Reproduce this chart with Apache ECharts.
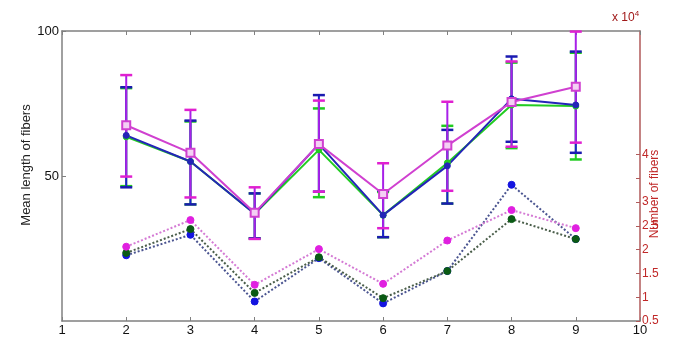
<!DOCTYPE html>
<html>
<head>
<meta charset="utf-8">
<script src="https://cdn.jsdelivr.net/npm/echarts@6/dist/echarts.min.js"></script>
<style>html,body{margin:0;padding:0;background:#fff}#c{width:674px;height:337px}</style>
</head>
<body>
<div id="c"></div>
<script>
// ---- data ----
var xs = [2, 3, 4, 5, 6, 7, 8, 9];
var xTicks = [1, 2, 3, 4, 5, 6, 7, 8, 9, 10];
var leftTicks = [50, 100];
var rightTickValues = [0.5, 1, 1.5, 2, 2.5, 3, 3.5, 4];
var rightLabelValues = [0.5, 1, 1.5, 2, 2.5, 3, 4];

var blueMean = [64, 55, 37, 61, 36.5, 53.5, 76.6, 74.5];
var blueUpper = [80.6, 69.1, 44.0, 77.9, 45, 65.9, 91.2, 92.9];
var blueLower = [46.1, 40.2, 28.5, 44.6, 28.9, 40.5, 61.8, 58];

var greenMean = [63.5, 55, 37, 59, 36.5, 54.5, 74.5, 74.1];
var greenUpper = [80.3, 68.8, 44.0, 73.3, 44.5, 67.3, 89.1, 92.5];
var greenLower = [46.5, 40.2, 28.5, 42.7, 28.9, 40.5, 59.6, 55.7];

var magentaMean = [67.5, 58, 37.3, 61, 43.8, 60.5, 75.5, 80.8];
var magentaUpper = [84.8, 72.8, 46.1, 76.0, 54.4, 75.6, 89.5, 99.8];
var magentaLower = [49.8, 42.6, 28.3, 44.6, 32.0, 44.9, 60.1, 61.5];

// number of fibers (x 10^4)
var blueCount = [1.88, 2.31, 0.91, 1.82, 0.87, 1.55, 3.36, 2.22];
var greenCount = [1.93, 2.43, 1.09, 1.84, 0.98, 1.55, 2.64, 2.22];
var magentaCount = [2.06, 2.62, 1.26, 2.01, 1.28, 2.19, 2.83, 2.45];

// ---- helpers ----
function pairs(vals) { return xs.map(function (x, i) { return [x, vals[i]]; }); }
function errData(lo, hi) { return xs.map(function (x, i) { return [x, lo[i], hi[i]]; }); }
function errSeries(name, lo, hi, stemColor, capColor) {
  return {
    name: name, type: 'custom', xAxisIndex: 0, yAxisIndex: 0,
    data: errData(lo, hi), z: 3,
    renderItem: function (params, api) {
      var x = api.value(0);
      var p1 = api.coord([x, api.value(1)]);
      var p2 = api.coord([x, api.value(2)]);
      var hw = 6;
      return {
        type: 'group',
        children: [
          { type: 'line', shape: { x1: p1[0], y1: p1[1], x2: p2[0], y2: p2[1] }, style: { stroke: stemColor, lineWidth: 2 } },
          { type: 'line', shape: { x1: p1[0] - hw, y1: p1[1], x2: p1[0] + hw, y2: p1[1] }, style: { stroke: capColor, lineWidth: 2.5 } },
          { type: 'line', shape: { x1: p2[0] - hw, y1: p2[1], x2: p2[0] + hw, y2: p2[1] }, style: { stroke: capColor, lineWidth: 2.5 } }
        ]
      };
    }
  };
}
function solidLine(name, vals, color, symbol, size, filled) {
  return {
    name: name, type: 'line', xAxisIndex: 0, yAxisIndex: 0, data: pairs(vals), z: 4,
    symbol: symbol, symbolSize: size, showSymbol: true,
    lineStyle: { color: color, width: 2 },
    itemStyle: filled ? { color: color, borderColor: color, borderWidth: 1 } : { color: '#f4d0f4', borderColor: color, borderWidth: 2 },
    animation: false
  };
}
function dottedLine(name, vals, lineColor, dotColor) {
  return {
    name: name, type: 'line', xAxisIndex: 0, yAxisIndex: 1, data: pairs(vals), z: 2,
    symbol: 'circle', symbolSize: 7, showSymbol: true,
    lineStyle: { color: lineColor, width: 2, type: [2, 2] },
    itemStyle: { color: dotColor, borderColor: dotColor },
    animation: false
  };
}

var gray = '#808080';
var red = '#c02828';
var font = 'Liberation Sans, Arial, sans-serif';

var chart = echarts.init(document.getElementById('c'));
chart.setOption({
  animation: false,
  backgroundColor: '#ffffff',
  grid: { left: 62, right: 34, top: 31, bottom: 16, containLabel: false },
  xAxis: [
    {
      type: 'value', min: 1, max: 10, interval: 1, position: 'bottom',
      axisLine: { show: true, lineStyle: { color: gray, width: 1.5 } },
      axisTick: { show: true, inside: true, length: 4, lineStyle: { color: gray } },
      axisLabel: { color: '#111', fontSize: 13, fontFamily: font, margin: 3 },
      splitLine: { show: false }
    },
    {
      type: 'value', min: 1, max: 10, interval: 1, position: 'top',
      axisLine: { show: true, onZero: false, lineStyle: { color: gray, width: 1.5 } },
      axisTick: { show: true, inside: true, length: 4, lineStyle: { color: gray } },
      axisLabel: { show: false },
      splitLine: { show: false }
    }
  ],
  yAxis: [
    {
      type: 'value', min: 0, max: 100, position: 'left',
      axisLine: { show: true, lineStyle: { color: gray, width: 1.5 } },
      axisTick: { show: true, inside: true, length: 4, customValues: leftTicks, lineStyle: { color: gray } },
      axisLabel: { color: '#111', fontSize: 13, fontFamily: font, margin: 3, customValues: leftTicks },
      splitLine: { show: false }
    },
    {
      type: 'value', min: 0.5, max: 6.59, position: 'right',
      axisLine: { show: true, lineStyle: { color: '#b05a5a', width: 1.5 } },
      axisTick: { show: true, inside: true, length: 4, customValues: rightTickValues, lineStyle: { color: '#b05a5a' } },
      axisLabel: { color: red, fontSize: 12, fontFamily: font, margin: 2, customValues: rightLabelValues },
      splitLine: { show: false }
    }
  ],
  graphic: [
    { type: 'text', x: 26, y: 165, rotation: Math.PI / 2,
      style: { text: 'Mean length of fibers', fill: '#222', font: '13px ' + font, align: 'center', verticalAlign: 'middle' } },
    { type: 'text', x: 655, y: 194, rotation: Math.PI / 2,
      style: { text: 'Number of fibers', fill: red, font: '12px ' + font, align: 'center', verticalAlign: 'middle' } },
    { type: 'text', x: 612, y: 18,
      style: { text: 'x 10{s|4}', fill: '#a01818', font: '12px ' + font, align: 'left', verticalAlign: 'middle',
        rich: { s: { fontSize: 8, verticalAlign: 'top', padding: [0, 0, 8, 0], fill: '#a01818' } } } }
  ],
  series: [
    dottedLine('blueCount', blueCount, '#4a5490', '#1414e0'),
    dottedLine('greenCount', greenCount, '#4a5e4a', '#0a5a14'),
    dottedLine('magentaCount', magentaCount, '#d47ad4', '#e020e0'),
    errSeries('greenErr', greenLower, greenUpper, '#20cc20', '#20cc20'),
    errSeries('blueErr', blueLower, blueUpper, '#2020d0', '#1a1ab0'),
    errSeries('magentaErr', magentaLower, magentaUpper, '#a820e8', '#e020d0'),
    solidLine('green', greenMean, '#22cc22', 'circle', 6, true),
    solidLine('blue', blueMean, '#2424b8', 'circle', 6, true),
    solidLine('magenta', magentaMean, '#d040d0', 'rect', 8, false)
  ]
});
</script>
</body>
</html>
